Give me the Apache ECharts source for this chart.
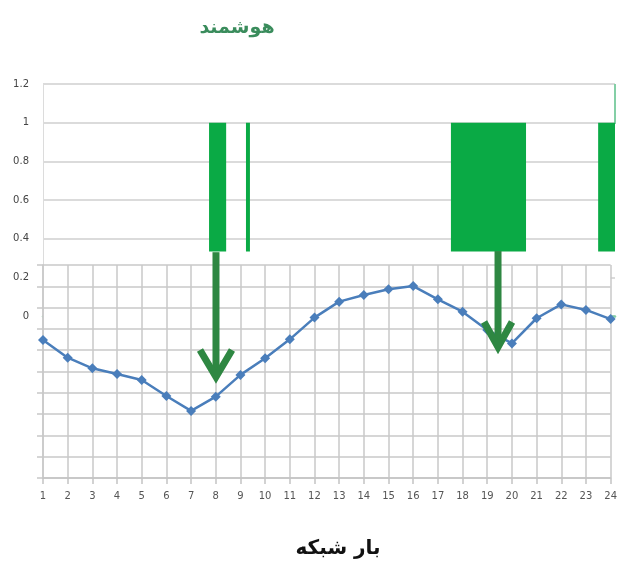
<!DOCTYPE html>
<html><head><meta charset="utf-8">
<script src="https://cdn.jsdelivr.net/npm/echarts@6/dist/echarts.min.js"></script>
<style>html,body{margin:0;padding:0;background:#fff}#c{width:620px;height:578px}</style>
</head><body><div id="c"></div>
<script>
// bottom chart: hours and grid-unit values
var hours = ['1','2','3','4','5','6','7','8','9','10','11','12','13','14','15','16','17','18','19','20','21','22','23','24'];
var loadValues = [6.48,5.65,5.15,4.88,4.6,3.85,3.15,3.82,4.84,5.62,6.51,7.53,8.28,8.59,8.86,9.01,8.39,7.81,6.95,6.32,7.5,8.15,7.89,7.46];
// top chart: switching blocks (hour start, hour end)
var blockStart = [7.70, 9.19, 17.46, 23.40];
var blockEnd   = [8.39, 9.35, 20.49, 24.08];
var blockLow = 0.333, blockHigh = 1;
var topTicks = [0, 0.2, 0.4, 0.6, 0.8, 1, 1.2];
// arrows: [hour, top value, tip value] in top-chart units
var arrows = [[7.98, 0.33, -0.331], [19.36, 0.336, -0.176]];

var chart = echarts.init(document.getElementById('c'));
var blocks = blockStart.map(function(s, i){ return [s, blockEnd[i], blockLow, blockHigh]; });
var arrowColor = '#2e8742';
chart.setOption({
  animation: false,
  backgroundColor: '#fff',
  title: [{
    text: 'هوشمند', left: 232, top: 14, textAlign: 'center',
    textStyle: {fontFamily: 'DejaVu Sans', fontSize: 19, fontWeight: 'bold', color: '#3a8c5c'}
  }, {
    text: 'بار شبکه', left: 333, top: 534, textAlign: 'center',
    textStyle: {fontFamily: 'DejaVu Sans', fontSize: 20, fontWeight: 'bold', color: '#111'}
  }],
  grid: [
    {left: 43, right: 5, top: 84, height: 232, show: false, z: 0},
    {left: 43, right: 7, top: 265, bottom: 100, show: true, backgroundColor: '#fff', borderWidth: 0, z: 2}
  ],
  xAxis: [
    {gridIndex: 0, type: 'value', min: 1, max: 24.08, position: 'top', z: 0,
     axisLine: {show: true, lineStyle: {color: '#84cfa6', width: 2.5}}, axisTick: {show: false},
     axisLabel: {show: false}, splitLine: {show: false}},
    {gridIndex: 1, type: 'category', data: hours, boundaryGap: false, z: 3,
     axisLine: {show: true, lineStyle: {color: '#c4c4c4', width: 1.5}},
     axisTick: {show: true, length: 6, lineStyle: {color: '#c4c4c4', width: 1.5}},
     axisLabel: {color: '#555', fontSize: 10, margin: 13, fontFamily: 'DejaVu Sans', interval: 0},
     splitLine: {show: true, lineStyle: {color: '#c8c8c8', width: 1.5}}}
  ],
  yAxis: [
    {gridIndex: 0, type: 'value', min: 0, max: 1.2, interval: 0.2, z: 0,
     axisLine: {show: true, lineStyle: {color: '#dcdcdc', width: 1}}, axisTick: {show: false},
     axisLabel: {color: '#444', fontSize: 10, margin: 14, fontFamily: 'DejaVu Sans',
       formatter: function(v){ var r = Math.round(v*10)/10; return topTicks.indexOf(r) >= 0 ? String(r) : ''; }},
     splitLine: {show: true, lineStyle: {color: '#cfcfcf', width: 1.5}}},
    {gridIndex: 1, type: 'value', min: 0, max: 10, interval: 1, z: 3,
     axisLine: {show: true, lineStyle: {color: '#c8c8c8', width: 1.5}},
     axisTick: {show: true, length: 6, lineStyle: {color: '#c8c8c8', width: 1.5}},
     axisLabel: {show: false},
     splitLine: {show: true, lineStyle: {color: '#c8c8c8', width: 1.5}}}
  ],
  graphic: [{
    type: 'line', z: 1, shape: {x1: 615, y1: 84, x2: 615, y2: 124},
    style: {stroke: '#84cfa6', lineWidth: 2}
  }],
  series: [
    {type: 'custom', xAxisIndex: 0, yAxisIndex: 0, z: 1, data: blocks,
     renderItem: function(params, api){
       var p1 = api.coord([api.value(0), api.value(3)]);
       var p2 = api.coord([api.value(1), api.value(2)]);
       return {type: 'rect', shape: {x: p1[0], y: p1[1], width: p2[0]-p1[0], height: p2[1]-p1[1]},
               style: {fill: '#0aaa45'}};
     }},
    {type: 'line', xAxisIndex: 1, yAxisIndex: 1, z: 5, data: loadValues,
     symbol: 'diamond', symbolSize: 10,
     lineStyle: {color: '#4a7ebb', width: 2.5}, itemStyle: {color: '#4a7ebb'}},
    {type: 'custom', xAxisIndex: 0, yAxisIndex: 0, z: 8, zlevel: 0, clip: false, data: arrows,
     renderItem: function(params, api){
       var top = api.coord([api.value(0), api.value(1)]);
       var tip = api.coord([api.value(0), api.value(2)]);
       var w = params.dataIndex === 0 ? 16 : 14, h = params.dataIndex === 0 ? 30 : 28;
       return {type: 'group', children: [
         {type: 'line', shape: {x1: top[0], y1: top[1], x2: tip[0], y2: tip[1]-4},
          style: {stroke: arrowColor, lineWidth: 7}},
         {type: 'polyline', shape: {points: [[tip[0]-w, tip[1]-h], [tip[0], tip[1]-3], [tip[0]+w, tip[1]-h]]},
          style: {stroke: arrowColor, lineWidth: 7, fill: null, lineJoin: 'miter'}}
       ]};
     }}
  ]
});
</script></body></html>
